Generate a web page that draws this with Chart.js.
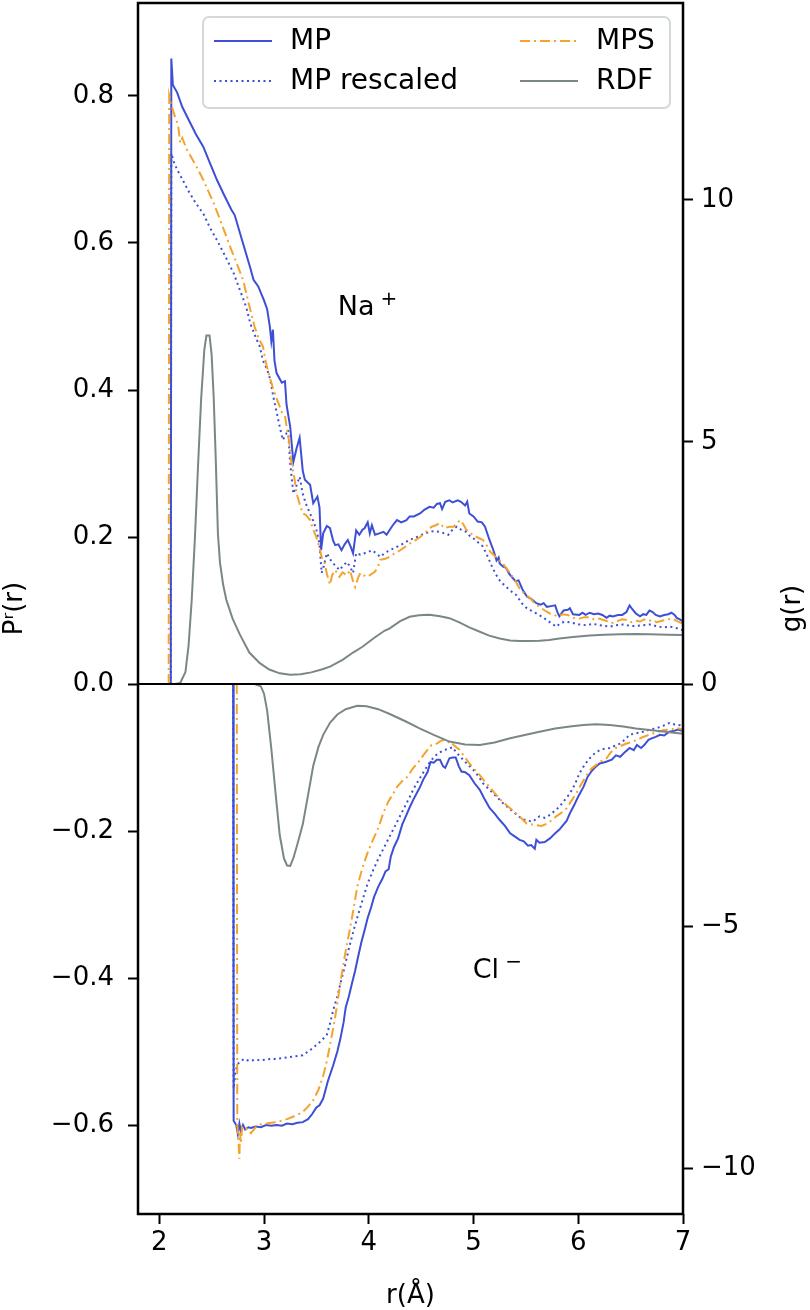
<!DOCTYPE html>
<html>
<head>
<meta charset="utf-8">
<script src="https://cdn.jsdelivr.net/npm/chart.js@4.4.1/dist/chart.umd.min.js"></script>
<style>
  html, body { margin: 0; padding: 0; background: #fff; }
  canvas { display: block; }
</style>
</head>
<body>
<canvas id="myChart" width="810" height="1310"></canvas>
<script>
// tick labels
const xTicks = [2, 3, 4, 5, 6, 7];
const leftTicks = [-0.6, -0.4, -0.2, 0, 0.2, 0.4, 0.6, 0.8];
const rightTicks = [-10, -5, 0, 5, 10];

// Na+ panel (upper half)
const naMpR = [2.11, 2.115, 2.13, 2.17, 2.22, 2.29, 2.35, 2.42, 2.48, 2.55, 2.62, 2.69, 2.72, 2.79, 2.865, 2.90, 2.945, 3.00, 3.03, 3.056, 3.07, 3.085, 3.10, 3.12, 3.17, 3.20, 3.215, 3.25, 3.28, 3.31, 3.34, 3.37, 3.39, 3.44, 3.47, 3.51, 3.53, 3.545, 3.565, 3.60, 3.63, 3.66, 3.68, 3.71, 3.74, 3.77, 3.80, 3.83, 3.85, 3.88, 3.91, 3.94, 3.96, 3.99, 4.01, 4.03, 4.06, 4.10, 4.14, 4.17, 4.21, 4.24, 4.27, 4.31, 4.36, 4.39, 4.43, 4.49, 4.53, 4.58, 4.62, 4.65, 4.68, 4.70, 4.73, 4.77, 4.80, 4.85, 4.88, 4.92, 4.94, 4.96, 5.00, 5.04, 5.08, 5.11, 5.15, 5.19, 5.22, 5.24, 5.25, 5.28, 5.31, 5.34, 5.37, 5.40, 5.43, 5.47, 5.51, 5.55, 5.60, 5.64, 5.67, 5.70, 5.74, 5.78, 5.80, 5.82, 5.86, 5.90, 5.92, 5.95, 6.01, 6.04, 6.07, 6.11, 6.15, 6.19, 6.23, 6.27, 6.30, 6.33, 6.38, 6.42, 6.46, 6.49, 6.51, 6.55, 6.59, 6.62, 6.65, 6.68, 6.71, 6.74, 6.78, 6.82, 6.86, 6.89, 6.92, 6.94, 6.97, 7.0];
const naMp = [0, 0.851, 0.815, 0.805, 0.785, 0.765, 0.748, 0.731, 0.71, 0.686, 0.665, 0.645, 0.638, 0.604, 0.568, 0.55, 0.541, 0.522, 0.51, 0.486, 0.466, 0.482, 0.44, 0.423, 0.41, 0.412, 0.38, 0.35, 0.302, 0.32, 0.335, 0.29, 0.278, 0.271, 0.246, 0.255, 0.24, 0.182, 0.205, 0.215, 0.212, 0.195, 0.189, 0.19, 0.182, 0.19, 0.196, 0.186, 0.178, 0.209, 0.203, 0.21, 0.212, 0.22, 0.205, 0.216, 0.203, 0.205, 0.207, 0.203, 0.212, 0.218, 0.223, 0.22, 0.223, 0.228, 0.228, 0.232, 0.237, 0.241, 0.24, 0.245, 0.246, 0.238, 0.248, 0.25, 0.247, 0.25, 0.248, 0.243, 0.248, 0.232, 0.228, 0.221, 0.22, 0.214, 0.197, 0.182, 0.168, 0.172, 0.164, 0.16, 0.158, 0.15, 0.145, 0.14, 0.141, 0.128, 0.119, 0.116, 0.11, 0.108, 0.11, 0.105, 0.106, 0.107, 0.098, 0.092, 0.1, 0.101, 0.103, 0.095, 0.094, 0.097, 0.094, 0.097, 0.095, 0.096, 0.094, 0.09, 0.093, 0.092, 0.094, 0.094, 0.098, 0.107, 0.103, 0.096, 0.092, 0.095, 0.094, 0.1, 0.098, 0.094, 0.092, 0.094, 0.095, 0.097, 0.094, 0.09, 0.088, 0.085];

const naMprR = [2.11, 2.115, 2.14, 2.17, 2.23, 2.29, 2.35, 2.42, 2.48, 2.55, 2.63, 2.71, 2.77, 2.83, 2.87, 2.92, 2.96, 2.99, 3.03, 3.06, 3.09, 3.12, 3.15, 3.18, 3.21, 3.23, 3.25, 3.28, 3.31, 3.34, 3.37, 3.40, 3.44, 3.47, 3.50, 3.53, 3.55, 3.57, 3.60, 3.63, 3.66, 3.69, 3.72, 3.75, 3.79, 3.82, 3.85, 3.88, 3.92, 3.96, 4.00, 4.03, 4.07, 4.11, 4.15, 4.20, 4.26, 4.33, 4.39, 4.46, 4.52, 4.58, 4.63, 4.68, 4.72, 4.76, 4.80, 4.84, 4.88, 4.93, 4.96, 5.00, 5.05, 5.09, 5.13, 5.17, 5.21, 5.25, 5.29, 5.33, 5.37, 5.41, 5.46, 5.51, 5.55, 5.60, 5.65, 5.70, 5.75, 5.79, 5.83, 5.88, 5.95, 6.01, 6.08, 6.14, 6.20, 6.25, 6.30, 6.36, 6.43, 6.50, 6.56, 6.62, 6.68, 6.74, 6.81, 6.88, 6.94, 7.0];
const naMpr = [0, 0.722, 0.71, 0.70, 0.684, 0.668, 0.654, 0.64, 0.622, 0.604, 0.582, 0.559, 0.536, 0.513, 0.49, 0.472, 0.459, 0.44, 0.428, 0.414, 0.39, 0.37, 0.35, 0.332, 0.34, 0.346, 0.30, 0.259, 0.27, 0.282, 0.259, 0.245, 0.232, 0.222, 0.21, 0.19, 0.151, 0.16, 0.178, 0.17, 0.164, 0.16, 0.155, 0.16, 0.166, 0.16, 0.151, 0.178, 0.176, 0.178, 0.18, 0.182, 0.178, 0.173, 0.178, 0.182, 0.186, 0.191, 0.196, 0.20, 0.204, 0.207, 0.208, 0.207, 0.205, 0.203, 0.21, 0.214, 0.21, 0.207, 0.202, 0.198, 0.192, 0.187, 0.175, 0.162, 0.15, 0.141, 0.135, 0.13, 0.125, 0.121, 0.11, 0.103, 0.1, 0.096, 0.092, 0.087, 0.082, 0.078, 0.083, 0.085, 0.083, 0.081, 0.08, 0.082, 0.08, 0.079, 0.078, 0.08, 0.081, 0.079, 0.079, 0.08, 0.081, 0.079, 0.077, 0.078, 0.076, 0.073];

const naMpsR = [2.09, 2.095, 2.11, 2.15, 2.18, 2.20, 2.22, 2.26, 2.32, 2.37, 2.42, 2.47, 2.52, 2.58, 2.64, 2.69, 2.74, 2.80, 2.85, 2.91, 2.95, 2.99, 3.02, 3.05, 3.09, 3.13, 3.17, 3.20, 3.22, 3.24, 3.26, 3.29, 3.31, 3.34, 3.37, 3.40, 3.44, 3.47, 3.50, 3.53, 3.55, 3.58, 3.60, 3.63, 3.65, 3.68, 3.70, 3.72, 3.75, 3.79, 3.82, 3.85, 3.87, 3.90, 3.92, 3.95, 3.99, 4.03, 4.06, 4.09, 4.11, 4.15, 4.20, 4.25, 4.30, 4.35, 4.39, 4.44, 4.49, 4.54, 4.60, 4.64, 4.68, 4.72, 4.77, 4.81, 4.84, 4.87, 4.90, 4.93, 4.96, 5.00, 5.03, 5.06, 5.09, 5.12, 5.16, 5.19, 5.23, 5.27, 5.31, 5.35, 5.40, 5.44, 5.49, 5.54, 5.58, 5.63, 5.68, 5.73, 5.77, 5.81, 5.85, 5.90, 5.95, 6.01, 6.06, 6.11, 6.15, 6.20, 6.24, 6.29, 6.33, 6.38, 6.42, 6.46, 6.51, 6.55, 6.59, 6.63, 6.67, 6.71, 6.75, 6.80, 6.85, 6.90, 6.94, 6.97, 7.0];
const naMps = [0, 0.80, 0.79, 0.772, 0.76, 0.736, 0.743, 0.728, 0.713, 0.70, 0.686, 0.67, 0.654, 0.632, 0.609, 0.59, 0.572, 0.55, 0.52, 0.486, 0.47, 0.459, 0.436, 0.42, 0.40, 0.385, 0.37, 0.365, 0.346, 0.33, 0.302, 0.28, 0.26, 0.245, 0.232, 0.23, 0.223, 0.21, 0.20, 0.185, 0.173, 0.164, 0.15, 0.135, 0.148, 0.155, 0.15, 0.146, 0.152, 0.148, 0.155, 0.14, 0.132, 0.145, 0.151, 0.148, 0.146, 0.15, 0.153, 0.16, 0.169, 0.17, 0.173, 0.178, 0.182, 0.187, 0.191, 0.195, 0.20, 0.206, 0.214, 0.216, 0.219, 0.212, 0.214, 0.214, 0.218, 0.223, 0.218, 0.21, 0.207, 0.202, 0.20, 0.198, 0.196, 0.19, 0.18, 0.176, 0.17, 0.166, 0.158, 0.151, 0.14, 0.13, 0.122, 0.117, 0.11, 0.105, 0.1, 0.096, 0.094, 0.092, 0.095, 0.094, 0.09, 0.089, 0.091, 0.091, 0.088, 0.089, 0.087, 0.085, 0.083, 0.086, 0.088, 0.087, 0.084, 0.086, 0.085, 0.088, 0.086, 0.087, 0.084, 0.086, 0.088, 0.089, 0.086, 0.084, 0.082];

const naRdfR = [2.15, 2.20, 2.25, 2.28, 2.31, 2.34, 2.37, 2.40, 2.43, 2.45, 2.48, 2.50, 2.52, 2.54, 2.56, 2.58, 2.61, 2.64, 2.70, 2.77, 2.86, 2.96, 3.05, 3.15, 3.25, 3.35, 3.45, 3.55, 3.63, 3.75, 3.85, 3.94, 4.05, 4.15, 4.20, 4.30, 4.39, 4.48, 4.58, 4.68, 4.77, 4.87, 4.96, 5.06, 5.15, 5.25, 5.35, 5.44, 5.54, 5.63, 5.72, 5.82, 5.95, 6.11, 6.25, 6.40, 6.55, 6.68, 6.85, 7.0];
const naRdf = [0, 0.02, 0.25, 0.8, 1.74, 3.0, 4.5, 5.9, 6.9, 7.2, 7.2, 6.8, 5.9, 4.6, 3.1, 2.5, 2.05, 1.74, 1.35, 1.02, 0.65, 0.43, 0.3, 0.22, 0.19, 0.2, 0.24, 0.3, 0.36, 0.5, 0.65, 0.77, 0.95, 1.1, 1.15, 1.3, 1.39, 1.42, 1.43, 1.40, 1.36, 1.27, 1.17, 1.08, 1.0, 0.94, 0.9, 0.89, 0.89, 0.895, 0.91, 0.94, 0.97, 1.0, 1.02, 1.03, 1.035, 1.03, 1.02, 1.01];

// Cl- panel (lower half, negative values)
const clMpR = [2.705, 2.71, 2.735, 2.75, 2.765, 2.78, 2.80, 2.82, 2.85, 2.875, 2.92, 2.97, 3.02, 3.07, 3.12, 3.17, 3.22, 3.27, 3.32, 3.37, 3.42, 3.46, 3.50, 3.53, 3.565, 3.61, 3.66, 3.70, 3.73, 3.76, 3.78, 3.81, 3.84, 3.87, 3.90, 3.93, 3.96, 3.99, 4.02, 4.05, 4.09, 4.13, 4.16, 4.19, 4.21, 4.24, 4.28, 4.32, 4.36, 4.39, 4.42, 4.46, 4.49, 4.52, 4.56, 4.59, 4.62, 4.65, 4.68, 4.71, 4.73, 4.77, 4.80, 4.83, 4.86, 4.885, 4.92, 4.96, 5.01, 5.06, 5.10, 5.155, 5.20, 5.25, 5.30, 5.35, 5.40, 5.44, 5.48, 5.52, 5.55, 5.585, 5.60, 5.63, 5.68, 5.73, 5.78, 5.82, 5.855, 5.89, 5.92, 5.96, 6.0, 6.05, 6.09, 6.13, 6.17, 6.205, 6.26, 6.32, 6.36, 6.40, 6.45, 6.49, 6.53, 6.56, 6.60, 6.63, 6.67, 6.70, 6.74, 6.78, 6.82, 6.87, 6.91, 6.95, 7.0];
const clMp = [0, -0.594, -0.60, -0.612, -0.598, -0.609, -0.6, -0.606, -0.603, -0.604, -0.602, -0.603, -0.6, -0.601, -0.6, -0.601, -0.598, -0.599, -0.597, -0.596, -0.592, -0.585, -0.576, -0.573, -0.564, -0.54, -0.519, -0.5, -0.482, -0.46, -0.44, -0.425, -0.407, -0.39, -0.37, -0.351, -0.335, -0.318, -0.305, -0.29, -0.276, -0.265, -0.255, -0.252, -0.235, -0.222, -0.21, -0.191, -0.178, -0.168, -0.159, -0.148, -0.14, -0.13, -0.12, -0.106, -0.107, -0.103, -0.103, -0.112, -0.114, -0.101, -0.1, -0.10, -0.112, -0.119, -0.12, -0.124, -0.135, -0.144, -0.155, -0.169, -0.176, -0.185, -0.193, -0.203, -0.208, -0.212, -0.214, -0.22, -0.219, -0.224, -0.212, -0.216, -0.215, -0.21, -0.203, -0.198, -0.192, -0.186, -0.176, -0.165, -0.153, -0.14, -0.126, -0.118, -0.112, -0.108, -0.106, -0.103, -0.097, -0.099, -0.092, -0.087, -0.09, -0.083, -0.087, -0.083, -0.076, -0.074, -0.072, -0.069, -0.07, -0.065, -0.064, -0.062, -0.064];

const clMprR = [2.705, 2.71, 2.73, 2.76, 2.81, 2.86, 2.92, 2.97, 3.02, 3.07, 3.12, 3.17, 3.22, 3.27, 3.32, 3.37, 3.42, 3.46, 3.50, 3.55, 3.60, 3.63, 3.66, 3.70, 3.73, 3.77, 3.81, 3.85, 3.89, 3.94, 3.99, 4.04, 4.09, 4.14, 4.19, 4.24, 4.29, 4.34, 4.39, 4.43, 4.48, 4.53, 4.58, 4.63, 4.68, 4.72, 4.76, 4.80, 4.84, 4.87, 4.90, 4.95, 5.0, 5.05, 5.09, 5.14, 5.19, 5.24, 5.28, 5.33, 5.38, 5.43, 5.47, 5.52, 5.57, 5.60, 5.63, 5.68, 5.73, 5.78, 5.82, 5.87, 5.92, 5.97, 6.01, 6.06, 6.11, 6.16, 6.205, 6.25, 6.30, 6.35, 6.40, 6.45, 6.49, 6.55, 6.62, 6.68, 6.75, 6.81, 6.87, 6.92, 6.97, 7.0];
const clMpr = [0, -0.55, -0.525, -0.515, -0.51, -0.513, -0.511, -0.512, -0.511, -0.51, -0.51, -0.509, -0.508, -0.507, -0.506, -0.505, -0.5, -0.496, -0.491, -0.485, -0.477, -0.462, -0.444, -0.425, -0.407, -0.385, -0.36, -0.338, -0.318, -0.294, -0.271, -0.254, -0.238, -0.224, -0.21, -0.196, -0.182, -0.168, -0.154, -0.142, -0.13, -0.118, -0.107, -0.098, -0.093, -0.09, -0.088, -0.086, -0.094, -0.098, -0.103, -0.11, -0.117, -0.126, -0.135, -0.142, -0.149, -0.156, -0.162, -0.168, -0.174, -0.18, -0.184, -0.186, -0.187, -0.183, -0.18, -0.182, -0.178, -0.172, -0.167, -0.158, -0.149, -0.136, -0.122, -0.11, -0.101, -0.094, -0.09, -0.088, -0.087, -0.084, -0.081, -0.075, -0.069, -0.067, -0.065, -0.062, -0.06, -0.057, -0.053, -0.055, -0.056, -0.058];

const clMpsR = [2.74, 2.745, 2.755, 2.765, 2.77, 2.78, 2.79, 2.81, 2.84, 2.875, 2.92, 2.97, 3.02, 3.07, 3.12, 3.17, 3.22, 3.27, 3.32, 3.37, 3.42, 3.47, 3.52, 3.565, 3.60, 3.63, 3.665, 3.70, 3.73, 3.76, 3.79, 3.81, 3.85, 3.89, 3.94, 3.99, 4.04, 4.09, 4.14, 4.19, 4.23, 4.27, 4.32, 4.37, 4.42, 4.47, 4.52, 4.57, 4.60, 4.64, 4.68, 4.71, 4.75, 4.78, 4.81, 4.87, 4.91, 4.96, 5.01, 5.06, 5.11, 5.155, 5.20, 5.25, 5.30, 5.35, 5.40, 5.44, 5.48, 5.51, 5.56, 5.60, 5.65, 5.70, 5.75, 5.79, 5.84, 5.89, 5.93, 5.98, 6.03, 6.08, 6.12, 6.17, 6.22, 6.27, 6.31, 6.36, 6.41, 6.46, 6.51, 6.56, 6.62, 6.68, 6.74, 6.81, 6.87, 6.94, 7.0];
const clMps = [0, -0.60, -0.62, -0.646, -0.61, -0.625, -0.603, -0.607, -0.605, -0.611, -0.603, -0.599, -0.598, -0.597, -0.596, -0.594, -0.592, -0.589, -0.586, -0.582, -0.575, -0.566, -0.552, -0.533, -0.513, -0.491, -0.465, -0.435, -0.405, -0.379, -0.355, -0.341, -0.31, -0.276, -0.25, -0.229, -0.212, -0.196, -0.175, -0.159, -0.15, -0.14, -0.132, -0.126, -0.115, -0.107, -0.097, -0.088, -0.083, -0.082, -0.078, -0.076, -0.08, -0.078, -0.083, -0.09, -0.098, -0.108, -0.116, -0.124, -0.133, -0.14, -0.148, -0.156, -0.163, -0.169, -0.175, -0.18, -0.186, -0.19, -0.191, -0.192, -0.193, -0.19, -0.185, -0.18, -0.175, -0.169, -0.16, -0.149, -0.136, -0.124, -0.116, -0.11, -0.105, -0.101, -0.093, -0.087, -0.084, -0.081, -0.079, -0.076, -0.072, -0.069, -0.066, -0.063, -0.062, -0.06, -0.062];

const clRdfR = [2.75, 2.91, 2.97, 3.0, 3.03, 3.07, 3.11, 3.15, 3.19, 3.22, 3.25, 3.28, 3.32, 3.37, 3.42, 3.47, 3.52, 3.565, 3.63, 3.70, 3.78, 3.89, 3.98, 4.09, 4.2, 4.35, 4.48, 4.62, 4.77, 4.92, 5.06, 5.20, 5.35, 5.5, 5.63, 5.78, 5.92, 6.05, 6.17, 6.30, 6.43, 6.55, 6.68, 6.85, 7.0];
const clRdf = [0, 0, -0.05, -0.2, -0.55, -1.34, -2.25, -3.12, -3.6, -3.75, -3.76, -3.6, -3.3, -2.9, -2.3, -1.69, -1.3, -1.05, -0.8, -0.63, -0.52, -0.45, -0.46, -0.52, -0.62, -0.77, -0.91, -1.05, -1.19, -1.25, -1.26, -1.21, -1.12, -1.05, -0.985, -0.92, -0.88, -0.845, -0.83, -0.845, -0.88, -0.92, -0.95, -0.99, -1.03];

const BLUE = '#3d4fd6';
const ORANGE = '#f4a42c';
const GRAY = '#7b8787';
const FONT = 'DejaVu Sans';
const DOTTED = [2, 3.5];
const DASHDOT = [10, 4, 2, 4];

function pts(rs, vs) {
  return rs.map((r, i) => ({ x: r, y: vs[i] }));
}

function line(data, color, dash, axis) {
  return {
    data: data,
    borderColor: color,
    borderWidth: 2,
    borderDash: dash || [],
    yAxisID: axis || 'y',
    pointRadius: 0,
    fill: false,
    tension: 0
  };
}

const legendItems = [
  { label: 'MP', color: BLUE, dash: [] },
  { label: 'MP rescaled', color: BLUE, dash: DOTTED },
  { label: 'MPS', color: ORANGE, dash: DASHDOT },
  { label: 'RDF', color: GRAY, dash: [] }
];

function minusFmt(v, digits) {
  const s = Math.abs(v).toFixed(digits);
  return v < 0 ? '\u2212' + s : s;
}

// frame, zero line, legend and labels drawn over the plot
const decorations = {
  id: 'decorations',
  afterDatasetsDraw(chart) {
    const c = chart.ctx;
    const a = chart.chartArea;
    const sx = chart.scales.x, sy = chart.scales.y;
    c.save();
    c.strokeStyle = '#000';
    c.lineWidth = 2.5;
    c.strokeRect(a.left, a.top, a.right - a.left, a.bottom - a.top);
    const y0 = sy.getPixelForValue(0);
    c.lineWidth = 2;
    c.beginPath();
    c.moveTo(a.left, y0);
    c.lineTo(a.right, y0);
    c.stroke();

    // ion labels
    c.fillStyle = '#000';
    c.textBaseline = 'alphabetic';
    c.textAlign = 'left';
    c.font = '27px "' + FONT + '"';
    let px = sx.getPixelForValue(3.705), py = sy.getPixelForValue(0.502);
    c.fillText('Na', px, py);
    let w = c.measureText('Na').width;
    c.font = '20px "' + FONT + '"';
    c.fillText('+', px + w + 6, py - 10);
    c.font = '27px "' + FONT + '"';
    px = sx.getPixelForValue(4.993); py = sy.getPixelForValue(-0.40);
    c.fillText('Cl', px, py);
    w = c.measureText('Cl').width;
    c.font = '20px "' + FONT + '"';
    c.fillText('\u2212', px + w + 6, py - 10);

    // legend
    const lx = a.left + 65, ly = a.top + 14, lw = 467, lh = 91;
    c.fillStyle = 'rgba(255,255,255,0.85)';
    c.strokeStyle = '#d3d8d8';
    c.lineWidth = 2;
    c.beginPath();
    c.roundRect(lx, ly, lw, lh, 6);
    c.fill();
    c.stroke();
    c.font = '28px "' + FONT + '"';
    c.textBaseline = 'middle';
    legendItems.forEach((it, i) => {
      const col = Math.floor(i / 2), row = i % 2;
      const x0 = lx + 11 + col * 306;
      const yy = ly + 24 + row * 40;
      c.strokeStyle = it.color;
      c.lineWidth = 2;
      c.setLineDash(it.dash);
      c.beginPath();
      c.moveTo(x0, yy);
      c.lineTo(x0 + 58, yy);
      c.stroke();
      c.setLineDash([]);
      c.fillStyle = '#000';
      c.fillText(it.label, x0 + 76, yy + 1);
    });

    // right axis title, reading bottom to top
    c.font = '26px "' + FONT + '"';
    c.translate(793, (a.top + a.bottom) / 2);
    c.rotate(-Math.PI / 2);
    c.textAlign = 'center';
    c.fillText('g(r)', 0, 0);
    c.restore();
  }
};

Chart.defaults.font.family = FONT;
Chart.defaults.font.size = 26;
Chart.defaults.color = '#000';

const tickGrid = {
  drawOnChartArea: false,
  drawTicks: true,
  tickLength: 10,
  tickWidth: 2,
  tickColor: '#000'
};

const ctx = document.getElementById('myChart').getContext('2d');
const chart = new Chart(ctx, {
  type: 'line',
  data: {
    datasets: [
      line(pts(naRdfR, naRdf), GRAY, null, 'g'),
      line(pts(clRdfR, clRdf), GRAY, null, 'g'),
      line(pts(naMpsR, naMps), ORANGE, DASHDOT),
      line(pts(clMpsR, clMps), ORANGE, DASHDOT),
      line(pts(naMprR, naMpr), BLUE, DOTTED),
      line(pts(clMprR, clMpr), BLUE, DOTTED),
      line(pts(naMpR, naMp), BLUE),
      line(pts(clMpR, clMp), BLUE)
    ]
  },
  options: {
    responsive: false,
    animation: false,
    layout: { padding: { top: 3, left: 0, right: 0, bottom: 0 } },
    plugins: { legend: { display: false }, tooltip: { enabled: false } },
    scales: {
      x: {
        type: 'linear',
        min: 1.797,
        max: 7,
        grid: tickGrid,
        border: { display: false },
        afterBuildTicks: (s) => { s.ticks = xTicks.map(v => ({ value: v })); },
        afterFit: (s) => { s.height = 96; s.paddingLeft = 0; s.paddingRight = 0; },
        ticks: { padding: 4, maxRotation: 0, callback: (v) => String(v) },
        title: { display: true, text: 'r(\u00c5)', font: { lineHeight: 1.05 }, padding: { top: 0, bottom: 0 } }
      },
      y: {
        position: 'left',
        min: -0.721,
        max: 0.9265,
        grid: tickGrid,
        border: { display: false },
        afterBuildTicks: (s) => { s.ticks = leftTicks.map(v => ({ value: v })); },
        afterFit: (s) => { s.width = 138; s.paddingTop = 0; s.paddingBottom = 0; },
        ticks: { padding: 14, callback: (v) => minusFmt(v, 1) },
        title: { display: true, text: 'P\u02b3(r)', padding: { top: 0, bottom: 0 } }
      },
      g: {
        position: 'right',
        min: -10.95,
        max: 14.07,
        grid: tickGrid,
        border: { display: false },
        afterBuildTicks: (s) => { s.ticks = rightTicks.map(v => ({ value: v })); },
        afterFit: (s) => { s.width = 127; s.paddingTop = 0; s.paddingBottom = 0; },
        ticks: { padding: 8, callback: (v) => minusFmt(v, 0) }
      }
    }
  },
  plugins: [decorations]
});
</script>
</body>
</html>
